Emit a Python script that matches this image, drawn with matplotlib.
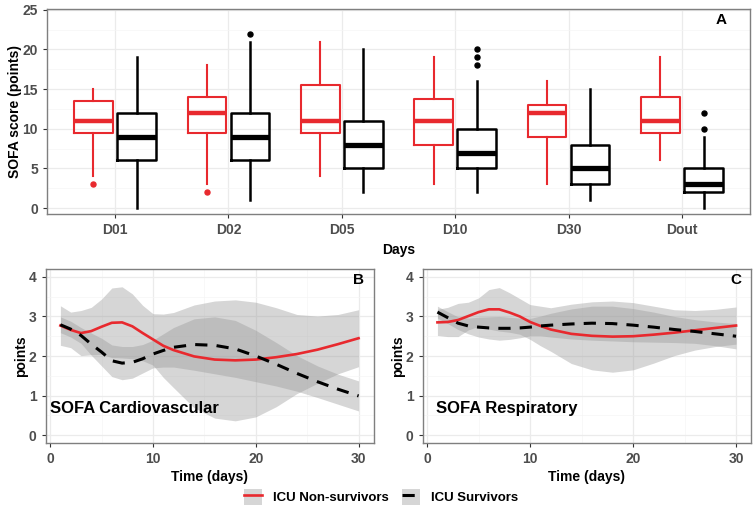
import matplotlib
matplotlib.use('Agg')
import matplotlib.pyplot as plt
from matplotlib.patches import Patch
from matplotlib.lines import Line2D
from matplotlib.ticker import MultipleLocator

plt.rcParams['font.family'] = ['Liberation Sans', 'DejaVu Sans']
plt.rcParams['font.weight'] = 'bold'

# Panel A: boxplot statistics
days_cat = ['D01', 'D02', 'D05', 'D10', 'D30', 'Dout']
# non-survivors (red)
ns_whislo = [4, 3, 4, 3, 3, 6]
ns_q1 = [9.5, 9.5, 9.5, 8, 9, 9.5]
ns_med = [11, 12, 11, 11, 12, 11]
ns_q3 = [13.5, 14, 15.5, 13.8, 13, 14]
ns_whishi = [15, 18, 21, 19, 16, 19]
ns_fliers = [[3], [2], [], [], [], []]
# survivors (black)
sv_whislo = [0, 1, 2, 2, 1, 0]
sv_q1 = [6, 6, 5, 5, 3, 2]
sv_med = [9, 9, 8, 7, 5, 3]
sv_q3 = [12, 12, 11, 10, 8, 5]
sv_whishi = [19, 21, 20, 16, 15, 9]
sv_fliers = [[], [22], [], [18, 19, 20], [], [10, 12]]

# Panels B and C: smoothed curves with confidence bands
t_days = [1, 2, 3, 4, 5, 6, 7, 8, 9, 10, 11, 12, 14, 16, 18, 20, 22, 24, 26, 28, 30]

cv_ns_mean = [2.77, 2.66, 2.58, 2.63, 2.74, 2.84, 2.85, 2.75, 2.58, 2.42, 2.26, 2.15, 1.99, 1.91, 1.89, 1.91, 1.97, 2.05, 2.16, 2.30, 2.45]
cv_ns_lo = [2.27, 2.21, 2.01, 2.03, 2.04, 1.96, 1.95, 1.93, 1.88, 1.77, 1.46, 1.20, 0.69, 0.43, 0.36, 0.46, 0.72, 1.05, 1.31, 1.55, 1.73]
cv_ns_hi = [3.27, 3.11, 3.15, 3.23, 3.44, 3.72, 3.75, 3.57, 3.28, 3.07, 3.06, 3.10, 3.29, 3.39, 3.42, 3.36, 3.22, 3.05, 3.01, 3.05, 3.17]
cv_sv_mean = [2.79, 2.68, 2.52, 2.30, 2.10, 1.88, 1.82, 1.84, 1.93, 2.05, 2.14, 2.22, 2.29, 2.27, 2.18, 2.00, 1.79, 1.56, 1.35, 1.16, 0.99]
cv_sv_lo = [2.59, 2.48, 2.32, 2.02, 1.75, 1.48, 1.40, 1.44, 1.57, 1.70, 1.72, 1.72, 1.64, 1.55, 1.46, 1.35, 1.24, 1.11, 0.95, 0.78, 0.61]
cv_sv_hi = [2.99, 2.88, 2.72, 2.58, 2.45, 2.28, 2.24, 2.24, 2.29, 2.40, 2.56, 2.72, 2.94, 2.99, 2.90, 2.65, 2.34, 2.01, 1.75, 1.54, 1.37]

rs_ns_mean = [2.85, 2.86, 2.91, 3.01, 3.11, 3.18, 3.18, 3.10, 3.00, 2.86, 2.76, 2.67, 2.56, 2.51, 2.49, 2.50, 2.54, 2.59, 2.65, 2.71, 2.77]
rs_ns_lo = [2.52, 2.49, 2.49, 2.66, 2.75, 2.68, 2.63, 2.60, 2.55, 2.42, 2.26, 2.12, 1.81, 1.65, 1.59, 1.65, 1.82, 2.01, 2.15, 2.24, 2.30]
rs_ns_hi = [3.18, 3.23, 3.33, 3.36, 3.47, 3.68, 3.73, 3.60, 3.45, 3.30, 3.26, 3.22, 3.31, 3.37, 3.39, 3.35, 3.26, 3.17, 3.15, 3.18, 3.24]
rs_sv_mean = [3.11, 2.97, 2.83, 2.76, 2.73, 2.71, 2.70, 2.70, 2.71, 2.73, 2.76, 2.78, 2.81, 2.83, 2.82, 2.78, 2.73, 2.67, 2.62, 2.56, 2.50]
rs_sv_lo = [2.96, 2.82, 2.67, 2.56, 2.48, 2.43, 2.40, 2.42, 2.46, 2.51, 2.51, 2.48, 2.43, 2.40, 2.38, 2.36, 2.35, 2.34, 2.32, 2.26, 2.18]
rs_sv_hi = [3.26, 3.12, 2.99, 2.96, 2.98, 2.99, 3.00, 2.98, 2.96, 2.95, 3.01, 3.08, 3.19, 3.26, 3.26, 3.20, 3.11, 3.00, 2.92, 2.86, 2.82]

RED = '#E8292E'
BLACK = '#000000'
TICK_COL = '#4D4D4D'
BORDER = '#7F7F7F'
GRID_MAJ = '#EBEBEB'
GRID_MIN = '#F5F5F5'

W, H = 756, 520
fig = plt.figure(figsize=(W / 100, H / 100), dpi=100)


def px_axes(left, top, right, bottom):
    return fig.add_axes([left / W, 1 - bottom / H, (right - left) / W, (bottom - top) / H])


def style(ax):
    for s in ax.spines.values():
        s.set_color(BORDER)
        s.set_linewidth(1.0)
    ax.set_facecolor('white')
    ax.grid(which='major', color=GRID_MAJ, lw=0.9, zorder=0)
    ax.grid(which='minor', color=GRID_MIN, lw=0.5, zorder=0)
    ax.set_axisbelow(True)
    ax.tick_params(which='major', colors='#333333', labelcolor=TICK_COL, labelsize=10, length=3, width=0.8)
    ax.tick_params(which='minor', length=0)
    for lab in ax.get_xticklabels() + ax.get_yticklabels():
        lab.set_fontweight('bold')


# ---- Panel A
axA = px_axes(47, 9, 750, 214)
pos = list(range(1, len(days_cat) + 1))
ns_stats = []
sv_stats = []
for i in range(len(days_cat)):
    ns_stats.append(dict(med=ns_med[i], q1=ns_q1[i], q3=ns_q3[i], whislo=ns_whislo[i],
                         whishi=ns_whishi[i], fliers=ns_fliers[i]))
    sv_stats.append(dict(med=sv_med[i], q1=sv_q1[i], q3=sv_q3[i], whislo=sv_whislo[i],
                         whishi=sv_whishi[i], fliers=sv_fliers[i]))

axA.bxp(ns_stats, positions=[p - 0.19 for p in pos], widths=0.34, showcaps=False,
        boxprops=dict(color=RED, lw=1.5), whiskerprops=dict(color=RED, lw=1.5),
        medianprops=dict(color=RED, lw=3.2, solid_capstyle='butt'),
        flierprops=dict(marker='o', markerfacecolor=RED, markeredgecolor=RED, markersize=3.6),
        manage_ticks=False, zorder=3)
axA.bxp(sv_stats, positions=[p + 0.19 for p in pos], widths=0.34, showcaps=False,
        boxprops=dict(color=BLACK, lw=1.8), whiskerprops=dict(color=BLACK, lw=1.8),
        medianprops=dict(color=BLACK, lw=3.8, solid_capstyle='butt'),
        flierprops=dict(marker='o', markerfacecolor=BLACK, markeredgecolor=BLACK, markersize=3.6),
        manage_ticks=False, zorder=3)
axA.set_xlim(0.4, len(days_cat) + 0.6)
axA.set_ylim(-0.75, 25.1)
axA.set_xticks(pos)
axA.set_xticklabels(days_cat)
axA.yaxis.set_major_locator(MultipleLocator(5))
axA.yaxis.set_minor_locator(MultipleLocator(2.5))
style(axA)
axA.xaxis.grid(which='minor', visible=False)
axA.set_xlabel('Days', fontsize=10, fontweight='bold', labelpad=4)
axA.set_ylabel('SOFA score (points)', fontsize=10, fontweight='bold', labelpad=0)
axA.text(0.967, 0.98, 'A', transform=axA.transAxes, ha='right', va='top',
         fontsize=11, fontweight='bold')

# ---- Panels B and C
FILL = '#999999'


def smooth_panel(ax, ns_mean, ns_lo, ns_hi, sv_mean, sv_lo, sv_hi, letter, name, name_x):
    ax.fill_between(t_days, ns_lo, ns_hi, color=FILL, alpha=0.4, lw=0, zorder=2)
    ax.fill_between(t_days, sv_lo, sv_hi, color=FILL, alpha=0.4, lw=0, zorder=2)
    ax.plot(t_days, ns_mean, color=RED, lw=1.9, zorder=3)
    ax.plot(t_days, sv_mean, color=BLACK, lw=2.2, ls=(0, (4, 3)), zorder=3)
    ax.set_xlim(-0.45, 31.45)
    ax.set_ylim(-0.2, 4.2)
    ax.xaxis.set_major_locator(MultipleLocator(10))
    ax.xaxis.set_minor_locator(MultipleLocator(5))
    ax.yaxis.set_major_locator(MultipleLocator(1))
    ax.yaxis.set_minor_locator(MultipleLocator(0.5))
    style(ax)
    ax.set_xlabel('Time (days)', fontsize=10, fontweight='bold', labelpad=3)
    ax.set_ylabel('points', fontsize=10, fontweight='bold', labelpad=0.5)
    ax.text(0.97, 0.977, letter, transform=ax.transAxes, ha='right', va='top',
            fontsize=11, fontweight='bold')
    ax.text(name_x, 0.55, name, ha='left', va='baseline',
            fontsize=12, fontweight='bold')


axB = px_axes(45.5, 269, 373.5, 443)
smooth_panel(axB, cv_ns_mean, cv_ns_lo, cv_ns_hi, cv_sv_mean, cv_sv_lo, cv_sv_hi,
             'B', 'SOFA Cardiovascular', 0.0)
axC = px_axes(422.5, 269, 751, 443)
smooth_panel(axC, rs_ns_mean, rs_ns_lo, rs_ns_hi, rs_sv_mean, rs_sv_lo, rs_sv_hi,
             'C', 'SOFA Respiratory', 0.9)

# ---- legend
key = '#D6D6D6'
h_ns = (Patch(facecolor=key, edgecolor='none'), Line2D([], [], color=RED, lw=1.9))
h_sv = (Patch(facecolor=key, edgecolor='none'), Line2D([], [], color=BLACK, lw=2.2, ls=(0, (4, 3))))
leg = fig.legend([h_ns, h_sv], ['ICU Non-survivors', 'ICU Survivors'],
                 loc='center', bbox_to_anchor=(381 / W, 1 - 497 / H), ncol=2, frameon=False,
                 prop=dict(size=9.5, weight='bold'), handlelength=1.4, handleheight=1.6,
                 columnspacing=1.0, handletextpad=0.8)

fig.savefig('out.png', dpi=100)
